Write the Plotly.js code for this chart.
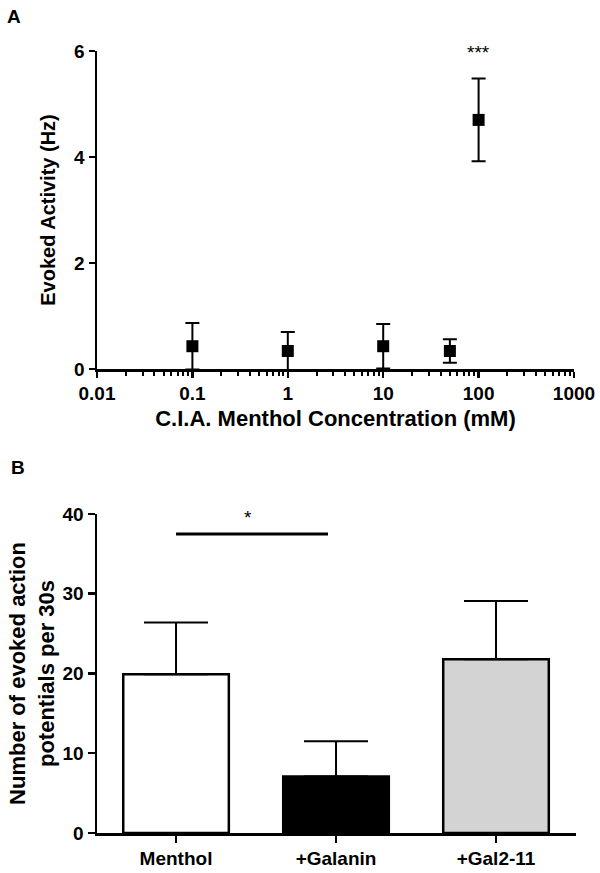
<!DOCTYPE html>
<html>
<head>
<meta charset="utf-8">
<script src="https://cdn.plot.ly/plotly-3.0.1.min.js"></script>
<style>html,body{margin:0;padding:0;background:#fff;}#chart{width:600px;height:873px;}</style>
</head>
<body>
<div id="chart"></div>
<script>
// Panel A data
const concentrations = [0.1, 1, 10, 50, 100];
const evokedActivity = [0.43, 0.34, 0.43, 0.34, 4.70];
const evokedSEM = [0.44, 0.36, 0.42, 0.22, 0.78];
const concTickVals = [0.01, 0.1, 1, 10, 100, 1000];
const concTickText = ['0.01', '0.1', '1', '10', '100', '1000'];
const activityTicks = [0, 2, 4, 6];

// Panel B data
const groups = ['Menthol', '+Galanin', '+Gal2-11'];
const apCounts = [19.9, 7.1, 21.8];
const apSEM = [6.5, 4.4, 7.3];
const groupColors = ['#ffffff', '#000000', '#d3d3d3'];
const countTicks = [0, 10, 20, 30, 40];
const sigBracketX = [0, 0.95];
const sigBracketY = 37.5;

const FONT = 'Liberation Sans, Arial, sans-serif';
const groupIdx = groups.map((g, i) => i);

const minorVals = [];
for (let d = -2; d < 3; d++) for (let k = 2; k <= 9; k++) minorVals.push(k * Math.pow(10, d));

const traceA = {
  type: 'scatter', mode: 'markers', xaxis: 'x', yaxis: 'y',
  x: concentrations, y: evokedActivity,
  marker: {symbol: 'square', size: 12, color: '#000'},
  error_y: {type: 'data', array: evokedSEM, visible: true, color: '#000', thickness: 2, width: 7},
  cliponaxis: false, showlegend: false, hoverinfo: 'x+y'
};

const traceB = {
  type: 'bar', xaxis: 'x2', yaxis: 'y2',
  x: groupIdx, y: apCounts, width: 0.66,
  marker: {color: groupColors, line: {color: '#000', width: 2.5}},
  error_y: {type: 'data', symmetric: false, array: apSEM, arrayminus: apSEM.map(() => 0),
            visible: true, color: '#000', thickness: 2, width: 32},
  showlegend: false
};

const tickFont = {family: FONT, size: 19, color: '#000', weight: 'bold'};
const titleFont = (s) => ({family: FONT, size: s, color: '#000', weight: 'bold'});

const layout = {
  width: 600, height: 873,
  margin: {l: 97, r: 24, t: 51, b: 40},
  paper_bgcolor: '#fff', plot_bgcolor: '#fff',
  font: {family: FONT, color: '#000'},
  showlegend: false,
  xaxis: {
    domain: [0, 477/479], anchor: 'y', type: 'log', range: [-2, 3],
    tickvals: concTickVals, ticktext: concTickText,
    ticks: 'outside', ticklen: 6, tickwidth: 2.5, tickcolor: '#000',
    minor: {tickvals: minorVals, ticks: 'outside', ticklen: 4, tickwidth: 2, tickcolor: '#000', showgrid: false},
    showline: true, linecolor: '#000', linewidth: 2.5, showgrid: false, zeroline: false,
    tickfont: tickFont,
    title: {text: 'C.I.A. Menthol Concentration (mM)', font: titleFont(22), standoff: 8}
  },
  yaxis: {
    domain: [0.59335, 1], anchor: 'x', range: [0, 6],
    tickvals: activityTicks,
    ticks: 'outside', ticklen: 6, tickwidth: 2.5, tickcolor: '#000',
    showline: true, linecolor: '#000', linewidth: 2.5, showgrid: false, zeroline: false,
    tickfont: tickFont,
    title: {text: 'Evoked Activity (Hz)', font: titleFont(20), standoff: 13}
  },
  xaxis2: {
    domain: [0, 1], anchor: 'y2', range: [-0.494, 2.5],
    tickvals: groupIdx, ticktext: groups,
    ticks: 'outside', ticklen: 7, tickwidth: 2.5, tickcolor: '#000',
    showline: true, linecolor: '#000', linewidth: 2.5, showgrid: false, zeroline: false,
    tickfont: tickFont
  },
  yaxis2: {
    domain: [0, 0.40793], anchor: 'x2', range: [0, 40],
    tickvals: countTicks,
    ticks: 'outside', ticklen: 7, tickwidth: 2.5, tickcolor: '#000',
    showline: true, linecolor: '#000', linewidth: 2.5, showgrid: false, zeroline: false,
    tickfont: tickFont,
    title: {text: 'Number of evoked action<br>potentials per 30s', font: titleFont(22), standoff: 2}
  },
  shapes: [{
    type: 'line', xref: 'x2', yref: 'y2',
    x0: sigBracketX[0], x1: sigBracketX[1], y0: sigBracketY, y1: sigBracketY,
    line: {color: '#000', width: 3}
  }],
  annotations: [
    {text: 'A', xref: 'paper', yref: 'paper', x: -0.173, y: 1.0435, xanchor: 'center', yanchor: 'middle',
     showarrow: false, font: {family: FONT, size: 19, color: '#000', weight: 'bold'}},
    {text: 'B', xref: 'paper', yref: 'paper', x: -0.165, y: 0.4668, xanchor: 'center', yanchor: 'middle',
     showarrow: false, font: {family: FONT, size: 19, color: '#000', weight: 'bold'}},
    {text: '***', xref: 'x', yref: 'y', x: Math.log10(concentrations[4]), y: 5.98, xanchor: 'center', yanchor: 'middle',
     showarrow: false, font: {family: FONT, size: 19, color: '#000'}},
    {text: '*', xref: 'x2', yref: 'y2', x: 0.45, y: 39.6, xanchor: 'center', yanchor: 'middle',
     showarrow: false, font: {family: FONT, size: 19, color: '#000'}}
  ]
};

Plotly.newPlot('chart', [traceA, traceB], layout, {staticPlot: true, displayModeBar: false});
</script>
</body>
</html>
